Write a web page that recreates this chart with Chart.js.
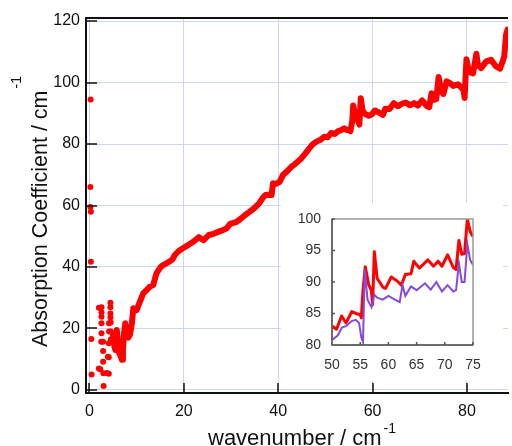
<!DOCTYPE html>
<html lang="en">
<head>
<meta charset="UTF-8">
<title>Absorption Coefficient</title>
<script src="https://cdn.jsdelivr.net/npm/chart.js"></script>
<style>
  body { margin: 0; background: #fff; }
  .wrap { position: relative; width: 512px; height: 446px; }
  canvas { display: block; }
  #inset { position: absolute; left: 281px; top: 203px; width: 222px; height: 178px; background: #fff; }
</style>
</head>
<body>
<div class="wrap">
  <canvas id="mainChart" width="512" height="446"></canvas>
  <div id="inset"><canvas id="insetChart" width="222" height="178"></canvas></div>
</div>
<script>
// main plot: isolated points near zero
const scatterX = [0.25, 0.2, 0.2, 0.3, 0.3, 0.4, 0.45, 2.0, 2.0, 2.55, 2.55, 2.55, 2.55, 2.55, 2.5, 2.3, 2.9, 2.9, 2.9, 2.95, 3.0, 3.7, 3.9, 4.15, 4.15, 4.1, 4.1, 4.1, 4.45, 4.45, 4.45, 4.45, 4.5, 4.55, 4.55];
const scatterY = [94.5, 66, 59.5, 58, 41.7, 16.6, 5, 26.7, 7, 26.9, 25.3, 23.8, 21.7, 18.4, 15.7, 6.7, 15.7, 12.7, 9.2, 5.4, 1.3, 5.5, 10.8, 21.7, 19, 15.2, 10.6, 5.3, 28.4, 26.9, 24.9, 23.6, 21.9, 19, 16.5];

// main plot: continuous curve
const curveX = [5.0, 5.3, 5.5, 5.8, 6.0, 6.3, 6.6, 6.9, 7.1, 7.3, 7.6, 7.9, 8.2, 8.6, 9.0, 9.3, 10.0, 10.7, 11.4, 12.1, 12.8, 13.5, 14.2, 15.0, 15.6, 16.3, 17.0, 17.6, 18.1, 19.0, 19.8, 21.0, 22.0, 23.2, 24.2, 25.3, 26.3, 27.4, 28.3, 29.1, 29.8, 31.2, 32.0, 33.0, 34.0, 35.1, 36.0, 36.8, 37.3, 38.0, 38.6, 38.9, 39.5, 40.3, 41.0, 42.0, 42.8, 43.5, 44.9, 45.9, 46.6, 47.3, 48.0, 49.0, 49.8, 50.5, 51.2, 52.0, 52.6, 53.3, 54.0, 54.5, 55.0, 55.3, 55.7, 55.9, 56.3, 56.8, 57.2, 57.5, 57.9, 58.4, 59.2, 59.8, 60.5, 61.3, 62.2, 62.7, 63.6, 64.5, 65.4, 66.2, 67.0, 67.9, 68.8, 69.6, 70.5, 71.5, 72.0, 72.5, 73.0, 73.5, 74.0, 74.5, 75.0, 75.7, 76.4, 77.1, 78.1, 78.8, 79.3, 79.5, 79.9, 80.4, 81.3, 82.0, 82.3, 83.0, 84.1, 85.1, 86.1, 87.0, 87.6, 87.9, 88.3, 88.6];
const curveY = [18, 14, 13, 19.5, 16, 12, 11, 9.8, 13, 18, 21.7, 19, 17, 18, 21.7, 26.6, 26, 28.7, 31.4, 32.5, 33.6, 34.1, 37.9, 39.8, 40.6, 41.2, 41.8, 42.5, 43.9, 45.3, 46.1, 47.2, 48.2, 49.7, 48.7, 50.4, 50.8, 51.5, 52.0, 52.6, 54, 54.7, 55.6, 56.9, 58.0, 59.4, 60.8, 62.6, 63.4, 63.5, 63.4, 67.2, 67.0, 67.7, 69.9, 71.3, 72.6, 73.4, 75.3, 77.2, 78.6, 79.9, 80.7, 81.4, 82.4, 82.2, 83.6, 83.3, 84.1, 84.5, 85.1, 84.6, 84.5, 84.2, 87.5, 92.5, 89.5, 88.2, 86.3, 94.9, 90.8, 89.8, 89.2, 89.6, 90.9, 90.3, 89.5, 91.5, 91.4, 93.3, 92.3, 93.1, 93.5, 92.6, 93.3, 92.5, 94.2, 92.3, 92.0, 96.5, 94.4, 94.6, 101.8, 97.5, 96.3, 100.4, 99.8, 98.9, 99.4, 98.4, 97.5, 95.0, 107.6, 103.5, 103.0, 109.4, 105.8, 104.7, 106.9, 107.4, 105.3, 104.5, 107, 108.5, 115.6, 117.2];

const xTicks = [0, 20, 40, 60, 80];
const yTicks = [0, 20, 40, 60, 80, 100, 120];

// inset
const insetX = [50, 50.8, 51.7, 52.5, 53.5, 54.3, 55, 55.2, 55.5, 55.9, 56.5, 57, 57.2, 57.5, 58, 59, 59.5, 60.5, 61.5, 62.3, 63, 64, 64.5, 65.5, 67, 68, 68.8, 69.5, 70.5, 71.5, 72, 72.5, 73, 73.5, 74, 74.5, 75];
const insetRed = [83, 82.5, 84.6, 83.5, 85.3, 85, 84.8, 84.3, 88.7, 92.4, 89.6, 88.6, 86.4, 94.8, 90.6, 89.2, 89, 90.8, 90.2, 89.5, 91.2, 91.3, 93.3, 92.2, 93.5, 92.5, 93.3, 92.5, 94.3, 92.3, 92, 96.6, 94.4, 94.5, 100, 98, 97.2];
const insetPurpleX = [50, 51, 51.8, 52.5, 53.5, 54.2, 54.8, 55.2, 55.5, 55.8, 56.3, 57, 57.5, 58, 59, 60, 61, 62, 62.5, 63, 64, 65, 66.5, 67.5, 68.5, 69.5, 70.5, 71.5, 72, 72.5, 73, 73.5, 74, 74.5, 75];
const insetPurple = [80.8, 81.5, 82.8, 83, 83.8, 84, 83.5, 81.2, 80.5, 92, 87.2, 86, 88, 87.5, 87.2, 87.8, 87.3, 86.8, 89.5, 87.8, 89.3, 88.7, 89.8, 88.8, 90, 88.5, 89.5, 88.5, 88.7, 93, 90, 90, 96, 93.5, 92.7];
const insetXTicks = [50, 55, 60, 65, 70, 75];
const insetYTicks = [80, 85, 90, 95, 100];

const xTitle = 'wavenumber / cm';
const yTitle = 'Absorption Coefficient / cm';
const unitSup = '-1';

const RED = 'rgb(255,0,0)';
const GRID = 'rgb(204,214,250)';
const FONT = '"Liberation Sans", Arial, sans-serif';

function toPoints(xs, ys) {
  return xs.map((x, i) => ({ x: x, y: ys[i] }));
}

function setTicks(values) {
  return scale => { scale.ticks = values.map(v => ({ value: v })); };
}

// ticks drawn inside the plot, plus the top frame line
const mainFrame = {
  id: 'mainFrame',
  afterDraw(chart) {
    const { ctx, chartArea: a, scales: { x, y } } = chart;
    ctx.save();
    ctx.strokeStyle = '#111';
    ctx.lineWidth = 1.5;
    ctx.beginPath();
    xTicks.forEach(v => {
      const px = Math.round(x.getPixelForValue(v));
      ctx.moveTo(px, a.bottom);
      ctx.lineTo(px, a.bottom - 10);
    });
    yTicks.forEach(v => {
      const py = Math.round(y.getPixelForValue(v));
      ctx.moveTo(a.left, py);
      ctx.lineTo(a.left + 11, py);
    });
    ctx.stroke();
    ctx.lineWidth = 2;
    ctx.beginPath();
    ctx.moveTo(a.left, a.top);
    ctx.lineTo(a.right, a.top);
    ctx.stroke();

    // axis titles with superscript unit
    ctx.fillStyle = '#111';
    ctx.textBaseline = 'alphabetic';
    ctx.font = '22px ' + FONT;
    ctx.fillText(xTitle, 208, 445);
    let w = ctx.measureText(xTitle).width;
    ctx.font = '14px ' + FONT;
    ctx.fillText(unitSup, 208 + w + 2, 433);

    ctx.translate(47, 347);
    ctx.rotate(-Math.PI / 2);
    ctx.font = '21.5px ' + FONT;
    ctx.fillText(yTitle, 0, 0);
    w = ctx.measureText(yTitle).width;
    ctx.font = '14px ' + FONT;
    ctx.fillText(unitSup, w + 2, -26);
    ctx.restore();
  }
};

new Chart(document.getElementById('mainChart'), {
  type: 'scatter',
  data: {
    datasets: [{
      data: toPoints(scatterX, scatterY),
      showLine: false,
      pointRadius: 3,
      pointBackgroundColor: RED,
      pointBorderWidth: 0
    }, {
      data: toPoints(curveX, curveY),
      showLine: true,
      borderColor: RED,
      borderWidth: 6,
      borderJoinStyle: 'round',
      borderCapStyle: 'round',
      pointRadius: 0,
      tension: 0
    }]
  },
  options: {
    responsive: false,
    animation: false,
    layout: { padding: { top: 18, right: 0, left: 0, bottom: 0 } },
    plugins: { legend: { display: false }, tooltip: { enabled: false } },
    scales: {
      x: {
        type: 'linear',
        min: -0.73,
        max: 88.7,
        afterBuildTicks: setTicks(xTicks),
        afterFit: s => { s.height = 53; },
        grid: { color: GRID, drawTicks: false },
        border: { color: '#111', width: 2 },
        ticks: { color: '#111', font: { family: FONT, size: 16 }, padding: 9, maxRotation: 0 }
      },
      y: {
        min: -1,
        max: 121,
        afterBuildTicks: setTicks(yTicks),
        afterFit: s => { s.width = 86; },
        grid: { color: GRID, drawTicks: false },
        border: { color: '#111', width: 2 },
        ticks: { color: '#111', font: { family: FONT, size: 16 }, padding: 6 }
      }
    }
  },
  plugins: [mainFrame]
});

// inset frame and small inward ticks
const insetFrame = {
  id: 'insetFrame',
  afterDraw(chart) {
    const { ctx, chartArea: a, scales: { x, y } } = chart;
    ctx.save();
    ctx.strokeStyle = '#999';
    ctx.lineWidth = 1.5;
    ctx.strokeRect(a.left, a.top, a.right - a.left, a.bottom - a.top);
    ctx.strokeStyle = '#555';
    ctx.beginPath();
    ctx.moveTo(a.left, a.top);
    ctx.lineTo(a.left, a.bottom);
    ctx.lineTo(a.right, a.bottom);
    insetXTicks.forEach(v => {
      const px = x.getPixelForValue(v);
      ctx.moveTo(px, a.bottom);
      ctx.lineTo(px, a.bottom - 3);
    });
    insetYTicks.forEach(v => {
      const py = y.getPixelForValue(v);
      ctx.moveTo(a.left, py);
      ctx.lineTo(a.left + 3, py);
    });
    ctx.stroke();
    ctx.restore();
  }
};

new Chart(document.getElementById('insetChart'), {
  type: 'scatter',
  data: {
    datasets: [{
      data: toPoints(insetPurpleX, insetPurple),
      showLine: true,
      borderColor: 'rgb(130,75,220)',
      borderWidth: 2,
      pointRadius: 0,
      tension: 0
    }, {
      data: toPoints(insetX, insetRed),
      showLine: true,
      borderColor: RED,
      borderWidth: 3,
      borderJoinStyle: 'round',
      pointRadius: 0,
      tension: 0
    }]
  },
  options: {
    responsive: false,
    animation: false,
    layout: { padding: { top: 16, right: 30, left: 0, bottom: 0 } },
    plugins: { legend: { display: false }, tooltip: { enabled: false } },
    scales: {
      x: {
        type: 'linear',
        min: 50,
        max: 75,
        afterBuildTicks: setTicks(insetXTicks),
        afterFit: s => { s.height = 36; },
        grid: { display: false },
        border: { display: false },
        ticks: { color: '#333', font: { family: FONT, size: 14 }, padding: 4, maxRotation: 0 }
      },
      y: {
        min: 80,
        max: 100,
        afterBuildTicks: setTicks(insetYTicks),
        afterFit: s => { s.width = 51; },
        grid: { display: false },
        border: { display: false },
        ticks: { color: '#333', font: { family: FONT, size: 14 }, padding: 3 }
      }
    }
  },
  plugins: [insetFrame]
});
</script>
</body>
</html>
